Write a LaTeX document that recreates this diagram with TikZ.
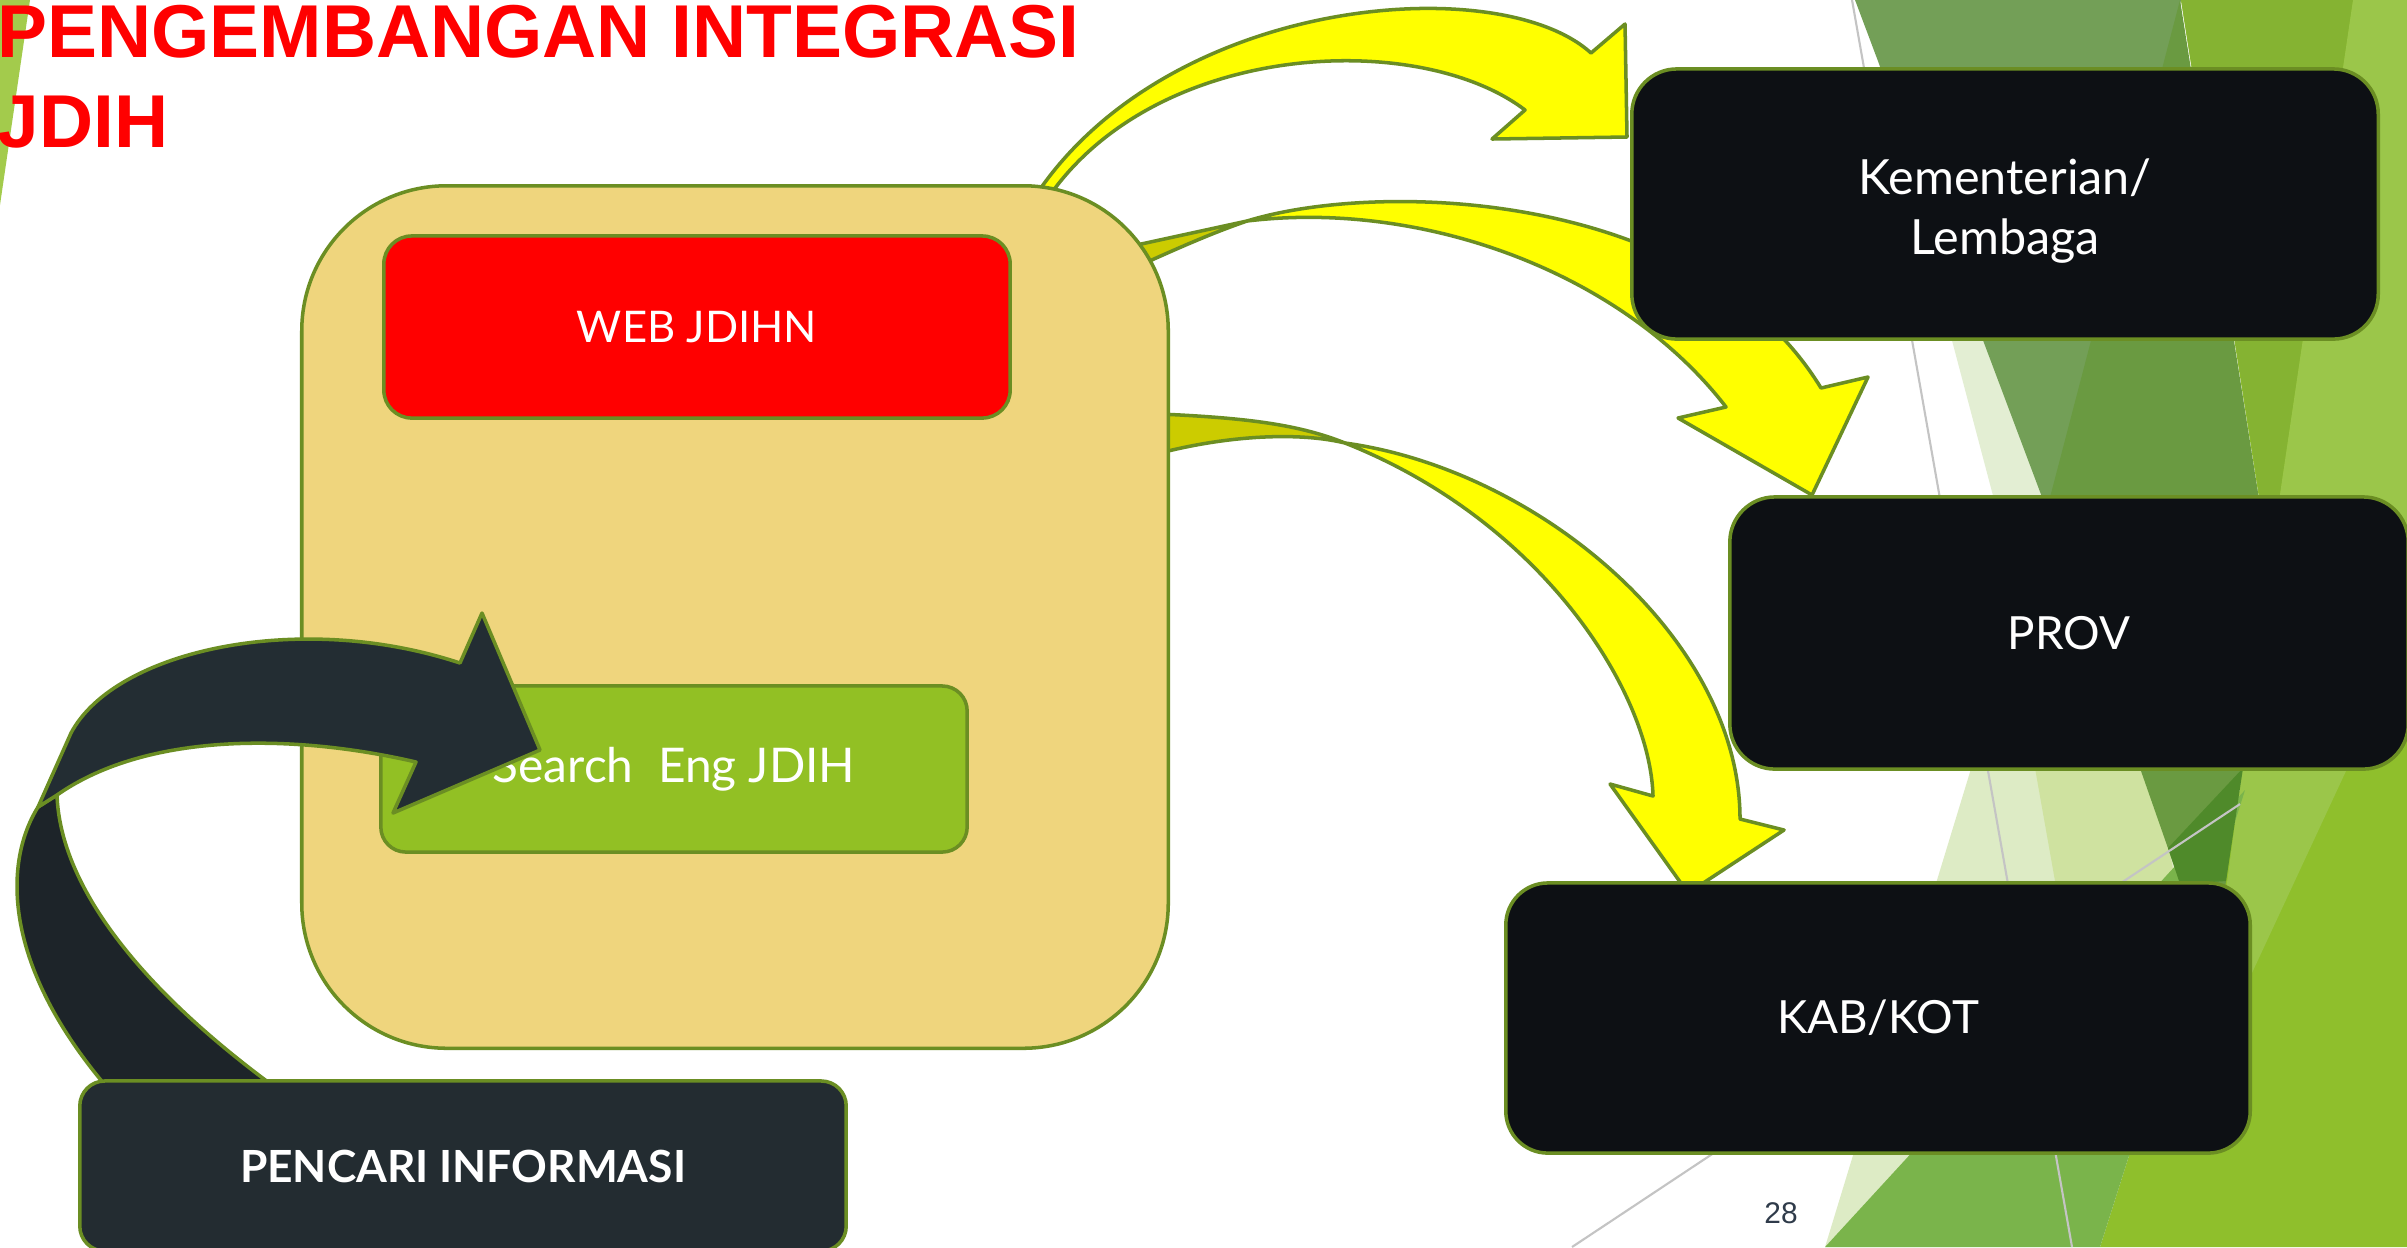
\documentclass[tikz,border=0pt]{standalone}
\usepackage{fontspec}
\setmainfont{Lato}
\newfontfamily\arialfont{Liberation Sans}
\definecolor{garis}{HTML}{6B8E23}
\definecolor{krem}{HTML}{EFD57D}
\definecolor{hijaumuda}{HTML}{92C024}
\definecolor{hitam}{HTML}{0D1014}
\definecolor{gelap}{HTML}{232C31}
\definecolor{gelapdepan}{HTML}{232D33}
\definecolor{gelapbelakang}{HTML}{1D2429}
\definecolor{kuning}{HTML}{FFFF00}
\definecolor{kuningtua}{HTML}{CCCC00}
\definecolor{nomor}{HTML}{2F3B4A}
\definecolor{segiA}{HTML}{A3CB4C}
\definecolor{segiB}{HTML}{E3EED3}
\definecolor{segiC}{HTML}{739F57}
\definecolor{segiD}{HTML}{8FBF2C}
\definecolor{segiE}{HTML}{85B332}
\definecolor{segiF}{HTML}{9BC64A}
\definecolor{segiG}{HTML}{6A9A41}
\definecolor{segiH}{HTML}{4F8A2A}
\definecolor{segiI}{HTML}{DDEBC5}
\definecolor{segiJ}{HTML}{CFE2A0}
\definecolor{segiK}{HTML}{7AB44B}
\definecolor{abu}{HTML}{C4C4C4}
\begin{document}
\begin{tikzpicture}[x=0.01cm,y=-0.01cm,
    kotak/.style={draw=garis,line width=1pt,text=white,align=center,
      font=\fontsize{13}{16.8}\selectfont},
    pita/.style={draw=garis,line width=1pt,line join=round}]
  \clip (0,0) rectangle (2407,1247);
  \fill[white] (0,0) rectangle (2407,1247);
  % latar
  \fill[segiA] (0,0) -- (30,0) -- (0,205) -- cycle;
  \fill[segiB] (1862,0) -- (1905,0) -- (2075,560) -- (2010,560) -- cycle;
  \fill[segiC] (1855,0) -- (2181,0) -- (2060,545) -- cycle;
  \fill[segiD] (2181,0) -- (2407,0) -- (2407,1247) -- (2100,1247) -- (2245,790) -- (2269,562) -- cycle;
  \fill[segiE] (2181,0) -- (2353,0) -- (2270,562) -- cycle;
  \fill[segiF] (2353,0) -- (2407,0) -- (2407,640) -- (2251,975) -- (2226,890) -- (2270,562) -- cycle;
  \fill[segiI] (1825,1247) -- (1995,690) -- (2145,690) -- (2213,977) -- (1960,1247) -- cycle;
  \fill[segiJ] (2030,740) -- (2150,740) -- (2175,881) -- (2055,881) -- cycle;
  \fill[segiK] (1825,1247) -- (2100,1247) -- (2245,790) -- cycle;
  \fill[segiG] (2180,0) -- (2269,562) -- (2213,977) -- (2048,505) -- cycle;
  \fill[segiH] (2168,848) -- (2243,768) -- (2226,881) -- (2180,884) -- cycle;
  \draw[abu,line width=0.6pt] (1852,0) -- (2072,1247);
  \draw[abu,line width=0.6pt] (1572,1247) -- (2240,804);
  % panah kuning
  \draw[pita,fill=kuning] (1036,195) .. controls (1170,-5) and (1500,-30) .. (1591,53)
    -- (1625,24) -- (1627,137) -- (1492,139) -- (1525,110)
    .. controls (1420,30) and (1160,40) .. (1050,195) -- cycle;
  \draw[pita,fill=kuningtua] (1132,246) -- (1247,221)
    .. controls (1215,232) and (1185,245) .. (1145,263) -- cycle;
  \draw[pita,fill=kuning] (1247,221) .. controls (1380,180) and (1700,190) .. (1821,388)
    -- (1868,377) -- (1812,495) -- (1678,418) -- (1726,407)
    .. controls (1620,270) and (1420,200) .. (1247,221) -- cycle;
  \draw[pita,fill=kuningtua] (1160,414) .. controls (1250,418) and (1300,425) .. (1345,443)
    .. controls (1300,432) and (1230,435) .. (1160,453) -- cycle;
  \draw[pita,fill=kuning] (1345,443) .. controls (1540,470) and (1740,640) .. (1740,819)
    -- (1784,830) -- (1688,893) -- (1610,784) -- (1653,796)
    .. controls (1650,690) and (1540,520) .. (1345,443) -- cycle;
  % kotak kiri
  \node[kotak,fill=krem,minimum width=8.66cm,minimum height=8.62cm,rounded corners=1.45cm] (wadah) at (735,617) {};
  \node[kotak,fill=red,minimum width=6.26cm,minimum height=1.82cm,rounded corners=0.28cm,
    font=\fontsize{12.4}{15}\selectfont] (web) at (697,327) {WEB JDIHN};
  \node[kotak,fill=hijaumuda,minimum width=5.86cm,minimum height=1.66cm,rounded corners=0.25cm,
    font=\fontsize{13.6}{16}\selectfont] (search) at (674,769) {Search\ \ Eng JDIH};
  % panah gelap
  \draw[pita,fill=gelapbelakang] (38,807) .. controls (5,860) and (0,960) .. (105,1085)
    -- (272,1085) .. controls (130,980) and (60,880) .. (57,795) -- cycle;
  \draw[pita,fill=gelapdepan] (38,807) -- (71,733) .. controls (115,650) and (300,610) .. (460,663)
    -- (482,613) -- (540,750) -- (393,813) -- (416,762)
    .. controls (300,735) and (150,730) .. (57,795) -- cycle;
  \node[kotak,fill=gelap,minimum width=7.66cm,minimum height=1.70cm,rounded corners=0.25cm,
    font=\bfseries\fontsize{12.6}{16}\selectfont] (pencari) at (463,1166) {PENCARI INFORMASI};
  % kotak kanan
  \node[kotak,fill=hitam,minimum width=7.46cm,minimum height=2.70cm,rounded corners=0.45cm] (kementerian) at (2005,204) {};
  \node[text=white,align=center,font=\fontsize{13.8}{16.8}\selectfont] (kementerianteks)
    at ([yshift=-0.07cm]kementerian.center) {Kementerian/\\Lembaga};
  \node[kotak,fill=hitam,minimum width=6.78cm,minimum height=2.72cm,rounded corners=0.45cm] (prov) at (2069,633) {PROV};
  \node[kotak,fill=hitam,minimum width=7.44cm,minimum height=2.70cm,rounded corners=0.42cm] (kab) at (1878,1018) {KAB/KOT};
  % judul
  \node[anchor=base west,inner sep=0,text=red,font=\arialfont\bfseries\fontsize{21.3}{25.6}\selectfont] (judul1) at (-3,57) {PENGEMBANGAN INTEGRASI};
  \node[anchor=base west,inner sep=0,text=red,font=\arialfont\bfseries\fontsize{21.3}{25.6}\selectfont] (judul2) at (-3,147) {JDIH};
  \node[text=nomor,font=\arialfont\fontsize{8.5}{10}\selectfont] (halaman) at (1781,1213) {28};
\end{tikzpicture}
\end{document}
